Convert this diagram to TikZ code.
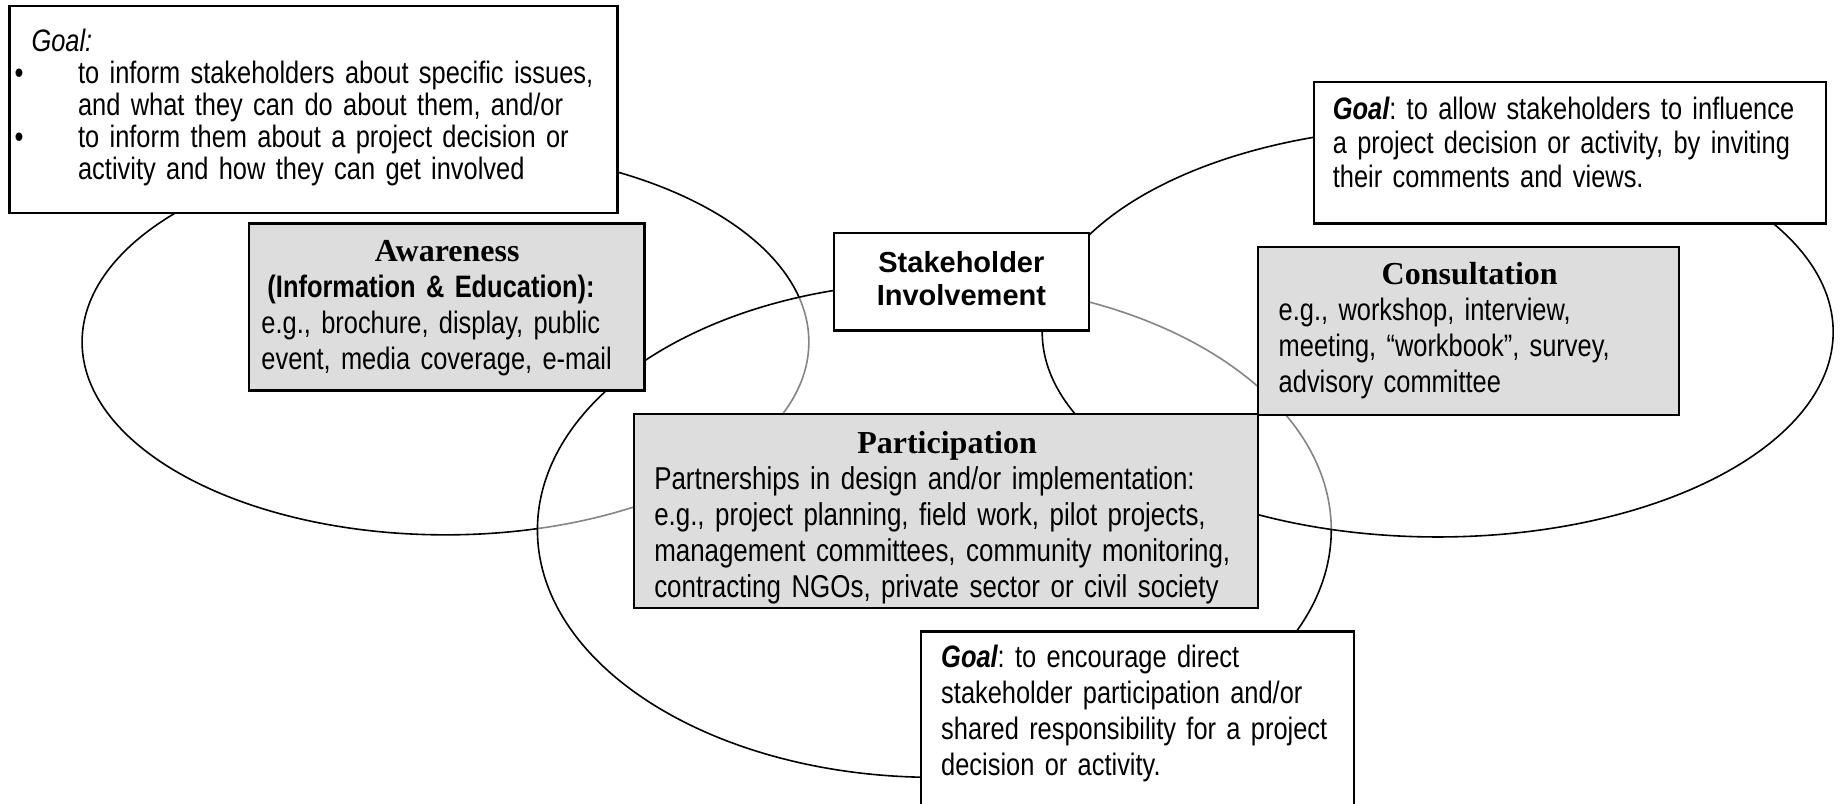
\documentclass[tikz,border=0pt]{standalone}
\usepackage{fontspec}
\setmainfont{Liberation Sans}[FakeStretch=0.82]
\newfontfamily\headfont{Liberation Serif}
\newfontfamily\widefont{Liberation Sans}
\usetikzlibrary{fit}
\definecolor{boxgray}{gray}{0.865}
\definecolor{arcgray}{gray}{0.52}
\newcommand\bul{\makebox[31.8pt][l]{\textbullet}}
\newcommand\ind{\hspace*{31.8pt}}
\newcommand\goalword{{\bfseries\itshape Goal}}
% the three rings, in picture units
\def\ringL{(378.8,290.8) ellipse [x radius=309, y radius=164]}
\def\ringR{(1222.5,282.3) ellipse [x radius=336.3, y radius=174.3]}
\def\ringB{(794.5,450.6) ellipse [x radius=337.5, y radius=210.4]}
\begin{document}
\frenchspacing
\begin{tikzpicture}[x=0.588pt,y=-0.588pt,
  ring/.style={line width=0.8pt},
  whitebox/.style={draw, line width=1.1pt, fill=white, inner sep=0pt},
  graybox/.style={draw, line width=1.1pt, fill=boxgray, inner sep=0pt},
  txt/.style={inner sep=0pt, align=left, font=\fontsize{15.5pt}{18pt}\selectfont}]
\useasboundingbox (0,0) rectangle (1568,683);
\fill[white] (0,0) rectangle (1568,683);

% rings: black where alone, grey where one lies inside the next
\begin{scope}[even odd rule]
  \clip (-20,-20) rectangle (1600,720) \ringB;
  \draw[ring] \ringL;
\end{scope}
\begin{scope}
  \clip \ringB;
  \draw[ring, arcgray] \ringL;
\end{scope}
\begin{scope}[even odd rule]
  \clip (-20,-20) rectangle (1600,720) \ringR;
  \draw[ring] \ringB;
\end{scope}
\begin{scope}
  \clip \ringR;
  \draw[ring, arcgray] \ringB;
\end{scope}
\draw[ring] \ringR;

% boxes
\node[whitebox, fit={(8,5) (525,181)}] (goalA) {};
\node[graybox, fit={(212,190) (548,332)}] (aware) {};
\node[whitebox, fit={(709,198) (926,281)}] (stake) {};
\node[whitebox, fit={(1117,70) (1553,190)}] (goalB) {};
\node[graybox, fit={(1070,210) (1428,353)}] (consult) {};
\node[graybox, fit={(539,352) (1070,517)}] (partic) {};
\node[whitebox, fit={(783,537) (1151,700)}] (goalC) {};

% texts
\node[txt, anchor=base west, text width=300pt,
      font=\fontsize{15.5pt}{16pt}\selectfont] (goalAtext) at (12,44)
  {\hspace*{8.5pt}\textit{Goal:}\\
   \bul to inform stakeholders about specific issues,\\
   \ind and what they can do about them, and/or\\
   \bul to inform them about a project decision or\\
   \ind activity and how they can get involved};

\node[txt, anchor=base west, text width=185.8pt] (awaretext) at (222,222)
  {\makebox[\linewidth]{\fontsize{16pt}{18pt}\headfont\bfseries Awareness}\\
   \hspace*{3pt}\textbf{(Information \& Education):}\\
   e.g., brochure, display, public\\
   event, media coverage, e-mail};

\node[inner sep=0pt, anchor=base, text width=127pt, align=center,
      font=\widefont\bfseries\fontsize{14.5pt}{16.5pt}\selectfont] (staketext) at (817.5,232)
  {Stakeholder\\Involvement};

\node[txt, anchor=base west, text width=250pt,
      font=\fontsize{15.5pt}{16.8pt}\selectfont] (goalBtext) at (1133,102)
  {\goalword: to allow stakeholders to influence\\
   a project decision or activity, by inviting\\
   their comments and views.};

\node[txt, anchor=base west, text width=191pt] (consulttext) at (1087,242)
  {\makebox[\linewidth]{\fontsize{16pt}{18pt}\headfont\bfseries Consultation}\\
   e.g., workshop, interview,\\
   meeting, “workbook”, survey,\\
   advisory committee};

\begin{scope}
  \clip (539,352) rectangle (1070,517);
  \node[txt, anchor=base west, text width=292.8pt,
        font=\fontsize{15.8pt}{17.9pt}\selectfont] (partictext) at (556,386)
    {\makebox[\linewidth]{\fontsize{16pt}{18pt}\headfont\bfseries Participation}\\
     Partnerships in design and/or implementation:\\
     e.g., project planning, field work, pilot projects,\\
     management committees, community monitoring,\\
     contracting NGOs, private sector or civil society};
\end{scope}

\node[txt, anchor=base west, text width=210pt] (goalCtext) at (800,568)
  {\goalword: to encourage direct\\
   stakeholder participation and/or\\
   shared responsibility for a project\\
   decision or activity.};
\end{tikzpicture}
\end{document}
